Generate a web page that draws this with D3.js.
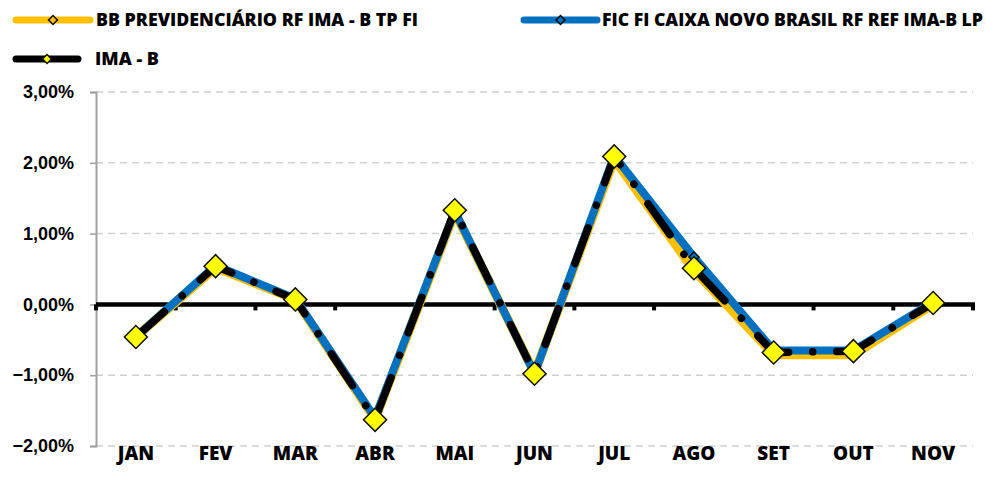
<!DOCTYPE html>
<html>
<head>
<meta charset="utf-8">
<script src="https://cdn.jsdelivr.net/npm/d3@7"></script>
<style>
  html, body { margin: 0; padding: 0; background: #fff; }
  svg { display: block; font-family: "Open Sans", "Noto Sans", sans-serif; }
</style>
</head>
<body>
<div id="chart"></div>
<script>
const months = ["JAN", "FEV", "MAR", "ABR", "MAI", "JUN", "JUL", "AGO", "SET", "OUT", "NOV"];
const bbValues   = [-0.46, 0.52, 0.07, -1.62, 1.30, -0.97, 2.05, 0.48, -0.71, -0.71, 0.00];
const caixaValues = [-0.46, 0.55, 0.08, -1.60, 1.32, -0.98, 2.10, 0.67, -0.65, -0.65, 0.03];
const imabValues = [-0.46, 0.54, 0.07, -1.63, 1.33, -0.98, 2.09, 0.51, -0.68, -0.66, 0.02];
const yTicks = [-2, -1, 0, 1, 2, 3];

const W = 986, H = 491;
const YELLOW = "#ffc000", BLUE = "#0070c0", BLACK = "#000", MARK = "#ffff00";

const svg = d3.select("#chart").append("svg")
  .attr("width", W).attr("height", H);

const x = d3.scaleBand().domain(months).range([96, 973]).padding(0);
const y = d3.scaleLinear().domain([-2, 3]).range([446, 92]);
const cx = m => x(m) + x.bandwidth() / 2;

// gridlines
svg.append("g").selectAll("line")
  .data(yTicks.filter(t => t !== 0))
  .join("line")
    .attr("x1", 96).attr("x2", 973)
    .attr("y1", d => y(d)).attr("y2", d => y(d))
    .attr("stroke", "#d0d0d0").attr("stroke-width", 1.5)
    .attr("stroke-dasharray", "7 5");

// y axis
const yAxis = d3.axisLeft(y)
  .tickValues(yTicks)
  .tickSize(6)
  .tickPadding(16)
  .tickFormat(d => d3.format(".2f")(d).replace(".", ",") + "%");

const gy = svg.append("g")
  .attr("transform", "translate(96,0)")
  .call(yAxis);
gy.select(".domain").attr("stroke", "#a0a0a0").attr("stroke-width", 2);
gy.selectAll(".tick line").attr("stroke", "#a0a0a0").attr("stroke-width", 1.5);
gy.selectAll(".tick text")
  .attr("font-size", 18).attr("font-weight", 800).attr("fill", "#000");

// zero line + category ticks
svg.append("line")
  .attr("x1", 96).attr("x2", 975)
  .attr("y1", y(0)).attr("y2", y(0))
  .attr("stroke", BLACK).attr("stroke-width", 4.5);

svg.append("g").selectAll("rect")
  .data(months.map(m => x(m) + x.bandwidth()).concat([x(months[0])]))
  .join("rect")
    .attr("x", d => d - 2).attr("y", y(0))
    .attr("width", 4).attr("height", 6)
    .attr("fill", BLACK);

// category labels
svg.append("g").selectAll("text")
  .data(months)
  .join("text")
    .attr("x", d => cx(d)).attr("y", 460)
    .attr("text-anchor", "middle")
    .attr("font-size", 19).attr("font-weight", 800)
    .text(d => d);

const line = d3.line()
  .x((d, i) => cx(months[i]))
  .y(d => y(d));

const diamond = size => d3.symbol().type(d3.symbolSquare).size(size);

function drawMarkers(values, size, fill) {
  svg.append("g").selectAll("path")
    .data(values)
    .join("path")
      .attr("d", diamond(size))
      .attr("transform", (d, i) => `translate(${cx(months[i])},${y(d)}) rotate(45)`)
      .attr("fill", fill)
      .attr("stroke", "#111").attr("stroke-width", 1.5);
}

// BB series
svg.append("path").datum(bbValues)
  .attr("d", line).attr("fill", "none")
  .attr("stroke", YELLOW).attr("stroke-width", 9)
  .attr("stroke-linejoin", "round");
drawMarkers(bbValues, 50, YELLOW);

// Caixa series
svg.append("path").datum(caixaValues)
  .attr("d", line).attr("fill", "none")
  .attr("stroke", BLUE).attr("stroke-width", 8)
  .attr("stroke-linejoin", "round");
drawMarkers(caixaValues, 50, BLUE);

// IMA-B series
svg.append("path").datum(imabValues)
  .attr("d", line).attr("fill", "none")
  .attr("stroke", BLACK).attr("stroke-width", 7.5)
  .attr("stroke-linecap", "round")
  .attr("stroke-dasharray", "38 24 0.1 24");
drawMarkers(imabValues, 265, MARK);

// legend
const legend = [
  { label: "BB PREVIDENCIÁRIO RF IMA - B TP FI", color: YELLOW, mark: YELLOW, x1: 16, x2: 90, ty: 20, tx: 96, len: 322 },
  { label: "FIC FI CAIXA NOVO BRASIL RF REF IMA-B LP", color: BLUE, mark: BLUE, x1: 524, x2: 597, ty: 20, tx: 602, len: 381 },
  { label: "IMA - B", color: BLACK, mark: MARK, x1: 16, x2: 78, ty: 59, tx: 95, len: 64 }
];

const lg = svg.append("g").selectAll("g").data(legend).join("g");
lg.append("line")
  .attr("x1", d => d.x1).attr("x2", d => d.x2)
  .attr("y1", d => d.ty).attr("y2", d => d.ty)
  .attr("stroke", d => d.color).attr("stroke-width", 7)
  .attr("stroke-linecap", "round");
lg.append("path")
  .attr("d", diamond(40))
  .attr("transform", d => `translate(${(d.x1 + d.x2) / 2},${d.ty}) rotate(45)`)
  .attr("fill", d => d.mark)
  .attr("stroke", "#111").attr("stroke-width", 1.5);
lg.append("text")
  .attr("x", d => d.tx).attr("y", d => d.ty + 6)
  .attr("font-size", 17).attr("font-weight", 800)
  .attr("textLength", d => d.len)
  .attr("lengthAdjust", "spacingAndGlyphs")
  .text(d => d.label);
</script>
</body>
</html>
